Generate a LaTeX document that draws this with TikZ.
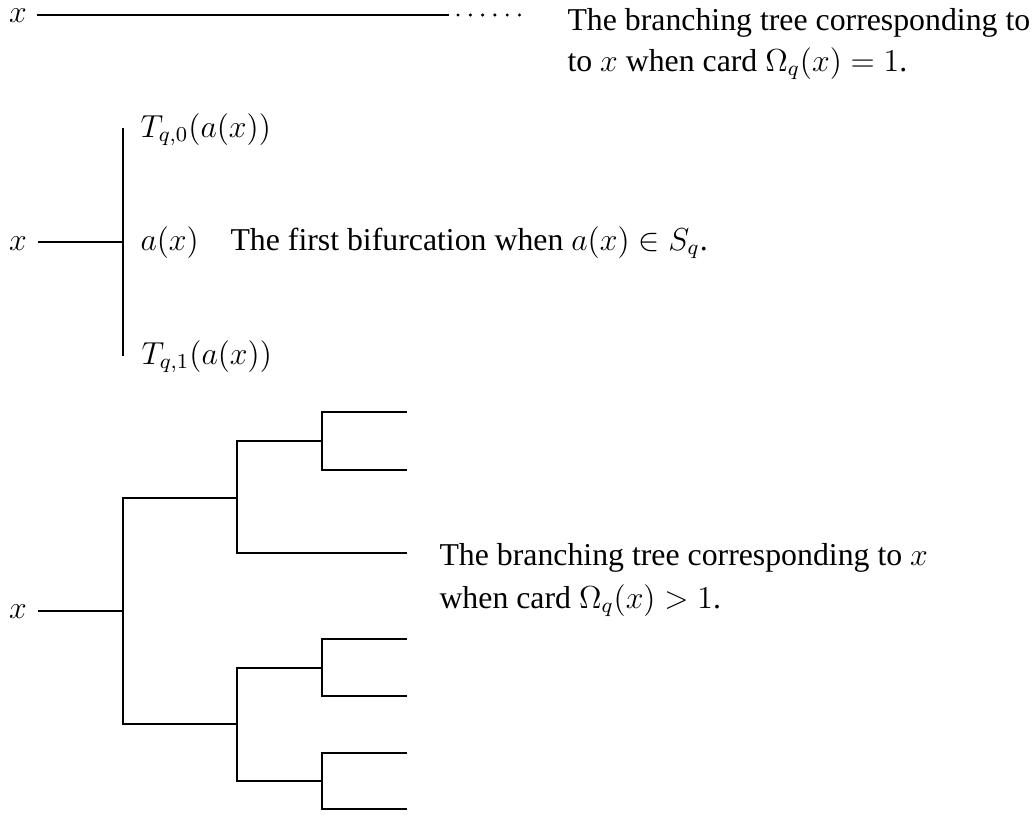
\documentclass[tikz,border=0pt]{standalone}
\usepackage{fontspec}
\setmainfont{Liberation Serif}
\begin{document}
\begin{tikzpicture}[x=0.3774pt,y=-0.3774pt,
  lab/.style={inner sep=0pt,anchor=base,font=\fontsize{12}{14}\selectfont},
  txt/.style={inner sep=0pt,anchor=base west,font=\fontsize{12}{14}\selectfont},
  br/.style={line width=0.4pt},
  thick line/.style={line width=0.65pt}]
\useasboundingbox (0,0) rectangle (1036,815);
% ---------- top ----------
\node[lab] (x1) at (18,22) {$x$};
\coordinate (s1) at (37,15);
\coordinate (e1) at (449,15);
\draw[thick line] (s1) -- (e1);
\foreach \i in {0,...,5} {\fill (458+12.3*\i,15) circle[radius=1.7];}
\node[txt] (t1a) at (567,30) {The branching tree corresponding to};
\node[txt] (t1b) at (567,71) {to $x$ when card $\Omega_q(x)=1$.};
% ---------- middle ----------
\node[lab] (x2) at (18,250) {$x$};
\coordinate (s2) at (38,242);
\coordinate (m) at (123,242);
\coordinate (mt) at (123,128);
\coordinate (mb) at (123,356);
\draw[br] (s2) -- (m);
\draw[br] (mt) -- (mb);
\node[txt] (T0) at (140,137) {$T_{q,0}(a(x))$};
\node[txt] (ax) at (140,250) {$a(x)$};
\node[txt] (t2) at (230,250) {The first bifurcation when $a(x)\in S_q$.};
\node[txt] (T1) at (141,364) {$T_{q,1}(a(x))$};
% ---------- bottom tree ----------
\node[lab] (x3) at (18,618) {$x$};
\coordinate (s3) at (38,611);
\coordinate (j0) at (123,611);
\coordinate (j1) at (237,498);
\coordinate (j2) at (237,724);
\coordinate (j11) at (322,441);
\coordinate (j21) at (322,668);
\coordinate (j22) at (322,781);
\coordinate (l1) at (407,412);
\coordinate (l2) at (407,470);
\coordinate (l3) at (407,553);
\coordinate (l4) at (407,639);
\coordinate (l5) at (407,696);
\coordinate (l6) at (407,753);
\coordinate (l7) at (407,809);
\draw[br] (s3) -- (j0);
\draw[br] (j0) |- (j1);
\draw[br] (j0) |- (j2);
\draw[br] (j1) |- (j11);
\draw[br] (j1) |- (l3);
\draw[br] (j11) |- (l1);
\draw[br] (j11) |- (l2);
\draw[br] (j2) |- (j21);
\draw[br] (j2) |- (j22);
\draw[br] (j21) |- (l4);
\draw[br] (j21) |- (l5);
\draw[br] (j22) |- (l6);
\draw[br] (j22) |- (l7);
\node[txt] (t3a) at (439,565) {The branching tree corresponding to $x$};
\node[txt] (t3b) at (439,608) {when card $\Omega_q(x)>1$.};
\end{tikzpicture}
\end{document}
